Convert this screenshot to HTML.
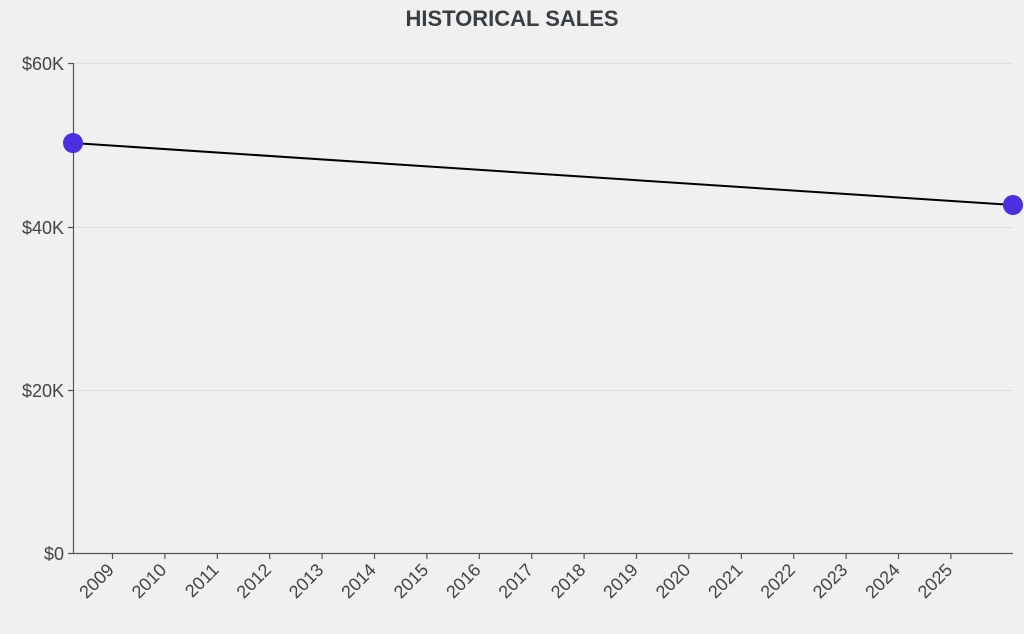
<!DOCTYPE html>
<html><head><meta charset="utf-8"><style>
html,body{margin:0;padding:0;background:#f0f0f0;}
svg{display:block;font-family:"Liberation Sans",sans-serif;}
</style></head><body>
<svg width="1024" height="634" viewBox="0 0 1024 634">
<rect width="1024" height="634" fill="#f0f0f0"/>
<text x="512" y="26" text-anchor="middle" font-size="22" font-weight="bold" fill="#3a3f44">HISTORICAL SALES</text>
<g stroke="#dedede" stroke-width="1">
<line x1="74" y1="63.5" x2="1013" y2="63.5"/>
<line x1="74" y1="227.5" x2="1013" y2="227.5"/>
<line x1="74" y1="390.5" x2="1013" y2="390.5"/>
</g>
<g stroke="#555" stroke-width="1.2">
<line x1="73.5" y1="63" x2="73.5" y2="554"/>
<line x1="73" y1="553.5" x2="1013" y2="553.5"/>
<line x1="68" y1="63.5" x2="73" y2="63.5"/>
<line x1="68" y1="227.5" x2="73" y2="227.5"/>
<line x1="68" y1="390.5" x2="73" y2="390.5"/>
<line x1="68" y1="553.5" x2="73" y2="553.5"/>
<line x1="112.5" y1="554" x2="112.5" y2="559"/>
<line x1="164.9" y1="554" x2="164.9" y2="559"/>
<line x1="217.3" y1="554" x2="217.3" y2="559"/>
<line x1="269.7" y1="554" x2="269.7" y2="559"/>
<line x1="322.1" y1="554" x2="322.1" y2="559"/>
<line x1="374.5" y1="554" x2="374.5" y2="559"/>
<line x1="426.9" y1="554" x2="426.9" y2="559"/>
<line x1="479.3" y1="554" x2="479.3" y2="559"/>
<line x1="531.7" y1="554" x2="531.7" y2="559"/>
<line x1="584.1" y1="554" x2="584.1" y2="559"/>
<line x1="636.5" y1="554" x2="636.5" y2="559"/>
<line x1="688.9" y1="554" x2="688.9" y2="559"/>
<line x1="741.3" y1="554" x2="741.3" y2="559"/>
<line x1="793.7" y1="554" x2="793.7" y2="559"/>
<line x1="846.1" y1="554" x2="846.1" y2="559"/>
<line x1="898.5" y1="554" x2="898.5" y2="559"/>
<line x1="950.9" y1="554" x2="950.9" y2="559"/>
</g>
<g font-size="18" fill="#444" text-anchor="end">
<text x="64" y="70">$60K</text>
<text x="64" y="234">$40K</text>
<text x="64" y="397">$20K</text>
<text x="64" y="560">$0</text>
</g>
<g font-size="18" fill="#444" text-anchor="end">
<text transform="translate(115,571) rotate(-45)">2009</text>
<text transform="translate(167.4,571) rotate(-45)">2010</text>
<text transform="translate(219.8,571) rotate(-45)">2011</text>
<text transform="translate(272.2,571) rotate(-45)">2012</text>
<text transform="translate(324.6,571) rotate(-45)">2013</text>
<text transform="translate(377,571) rotate(-45)">2014</text>
<text transform="translate(429.4,571) rotate(-45)">2015</text>
<text transform="translate(481.8,571) rotate(-45)">2016</text>
<text transform="translate(534.2,571) rotate(-45)">2017</text>
<text transform="translate(586.6,571) rotate(-45)">2018</text>
<text transform="translate(639,571) rotate(-45)">2019</text>
<text transform="translate(691.4,571) rotate(-45)">2020</text>
<text transform="translate(743.8,571) rotate(-45)">2021</text>
<text transform="translate(796.2,571) rotate(-45)">2022</text>
<text transform="translate(848.6,571) rotate(-45)">2023</text>
<text transform="translate(901,571) rotate(-45)">2024</text>
<text transform="translate(953.4,571) rotate(-45)">2025</text>
</g>
<line x1="73" y1="143" x2="1013" y2="205" stroke="#000" stroke-width="2"/>
<circle cx="73" cy="143" r="10" fill="#4a30e0"/>
<circle cx="1013" cy="205" r="10" fill="#4a30e0"/>
</svg>
</body></html>
